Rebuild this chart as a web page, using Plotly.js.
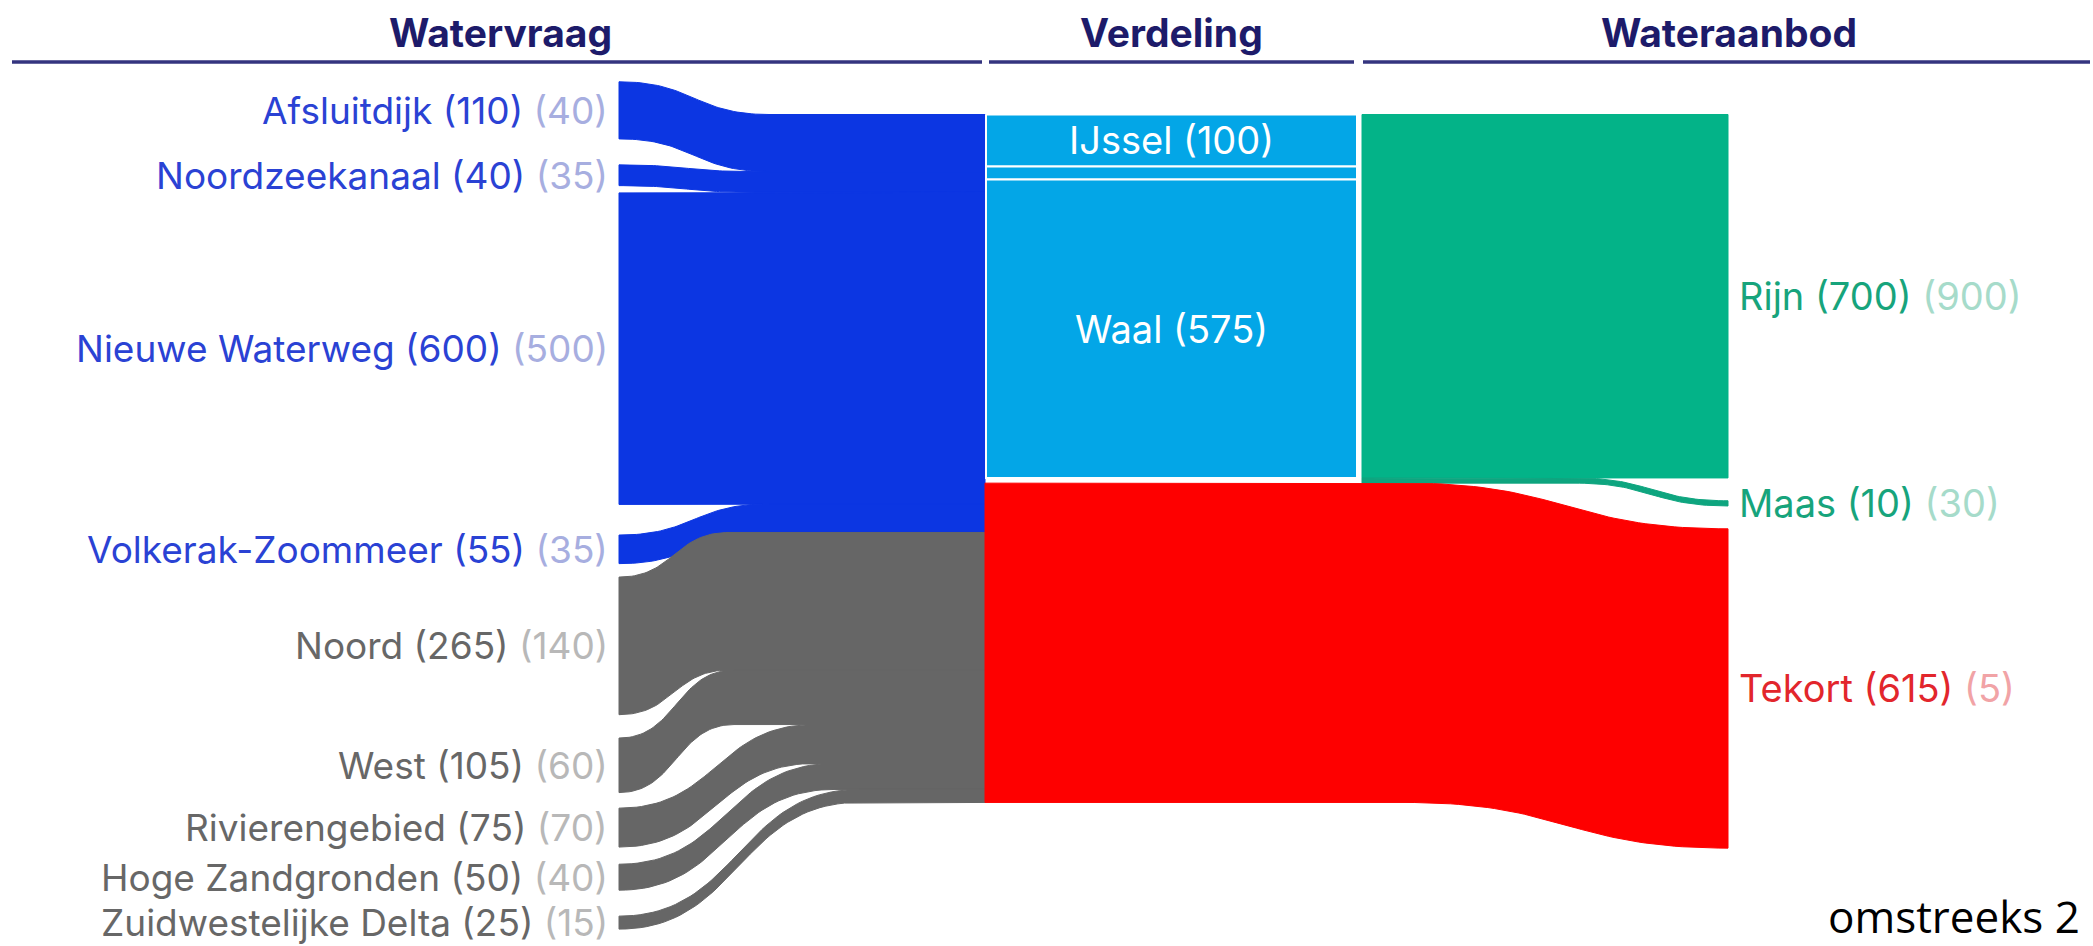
<!DOCTYPE html>
<html>
<head>
<meta charset="utf-8">
<script src="https://cdn.plot.ly/plotly-3.0.1.min.js"></script>
<style>
  html, body { margin: 0; padding: 0; background: #ffffff; }
  #chart { width: 2093px; height: 946px; }
</style>
</head>
<body>
<div id="chart"></div>
<script>
// ---------------- DATA ----------------
const demandNames  = ['Afsluitdijk', 'Noordzeekanaal', 'Nieuwe Waterweg', 'Volkerak-Zoommeer',
                      'Noord', 'West', 'Rivierengebied', 'Hoge Zandgronden', 'Zuidwestelijke Delta'];
const demandValues = [110, 40, 600, 55, 265, 105, 75, 50, 25];
const demandOther  = [40, 35, 500, 35, 140, 60, 70, 40, 15];
const demandGroup  = ['hoofd', 'hoofd', 'hoofd', 'hoofd', 'regio', 'regio', 'regio', 'regio', 'regio'];

const verdNames    = ['IJssel', 'Nederrijn', 'Waal'];
const verdValues   = [100, 25, 575];
const verdLabelled = [true, false, true];

const supplyNames  = ['Rijn', 'Maas', 'Tekort'];
const supplyValues = [700, 10, 615];
const supplyOther  = [900, 30, 5];

const headers = ['Watervraag', 'Verdeling', 'Wateraanbod'];
const footnote = 'omstreeks 2';

// ---------------- STYLE / LAYOUT ----------------
const W = 2093, H = 946;
const PX_PER_UNIT = 0.5192;
const TOP_PX = 114.5;
const Y_TOP = -TOP_PX / PX_PER_UNIT;
const Y_BOT = (H - TOP_PX) / PX_PER_UNIT;

const COL = {
  demandStart: 619, demandEnd: 985,
  verdStart: 986, verdEnd: 1357,
  supplyStart: 1362, supplyEnd: 1728,
  redCurveStart: 1405, maasCurveStart: 1575,
  leftLabelX: 610, rightLabelX: 1737, midLabelX: 1171
};
const leftStartOffset = -63;                       // units, first left band above block top
const leftGaps = [50, 14, 59, 26, 45, 30, 33, 50]; // units between left bands
const curveWidths = [150, 135, 120, 150, 110, 115, 195, 215, 240]; // px, horizontal length of each bend
const rightGap = 44;                               // units between right bands

const C = {
  hoofd: '#0c36e2', regio: '#666666', verd: '#03a6e7', rijn: '#03b388', maas: '#0ea57f', tekort: '#fe0000',
  navy: '#1d1b6a', line: '#34347f'
};
const LBL = {
  hoofd:  ['#2a42d4', '#a7aee0'],
  regio:  ['#676767', '#b8b8b8'],
  supply: ['#17a47c', '#a6dbca'],
  tekort: ['#e2262c', '#f1a3a6']
};
const FONT = 'Inter, "Open Sans", Arial, sans-serif';
const LABEL_SIZE = 37;

// ---------------- HELPERS ----------------
function bez(x0, y0, x1, y1, n) {
  const xs = [], ys = [];
  const xm = (x0 + x1) / 2;
  for (let k = 0; k <= n; k++) {
    const t = k / n, u = 1 - t;
    xs.push(u*u*u*x0 + 3*u*u*t*xm + 3*u*t*t*xm + t*t*t*x1);
    ys.push(y0 + (y1 - y0) * (3*t*t - 2*t*t*t));
  }
  return [xs, ys];
}
function band(x0, yL, x1, yR, xEnd, v, startFlat) {
  let xs = [], ys = [];
  if (startFlat !== undefined) { xs.push(startFlat); ys.push(yL); }
  const [tx, ty] = bez(x0, yL, x1, yR, 48);
  xs = xs.concat(tx); ys = ys.concat(ty);
  xs.push(xEnd); ys.push(yR);
  xs.push(xEnd); ys.push(yR + v);
  const [bx, by] = bez(x0, yL + v, x1, yR + v, 48);
  xs = xs.concat(bx.slice().reverse()); ys = ys.concat(by.slice().reverse());
  if (startFlat !== undefined) { xs.push(startFlat); ys.push(yL + v); }
  xs.push(xs[0]); ys.push(ys[0]);
  return [xs, ys];
}
function rect(x0, x1, y0, y1) {
  return [[x0, x1, x1, x0, x0], [y0, y0, y1, y1, y0]];
}
function fillTrace(xy, color, lineColor, lineWidth) {
  return {
    type: 'scatter', mode: 'lines', x: xy[0], y: xy[1], fill: 'toself',
    fillcolor: color, line: { color: lineColor || color, width: lineWidth === undefined ? 1 : lineWidth },
    hoverinfo: 'skip', showlegend: false
  };
}

const traces = [];
const annotations = [];
const shapes = [];

// ---------------- LEFT: demand flows ----------------
let rightTop = 0;
let leftTop = leftStartOffset;
demandValues.forEach((v, i) => {
  if (i > 0) leftTop += leftGaps[i - 1];
  const L = leftTop, R = rightTop;
  const w = curveWidths[i];
  traces.push(fillTrace(band(COL.demandStart, L, COL.demandStart + w, R, COL.demandEnd, v), C[demandGroup[i]]));
  const cols = LBL[demandGroup[i]];
  annotations.push({
    x: COL.leftLabelX, y: L + v / 2, xref: 'x', yref: 'y', xanchor: 'right', yanchor: 'middle',
    showarrow: false, font: { family: FONT, size: LABEL_SIZE, color: cols[0] },
    text: demandNames[i] + ' (' + v + ') <span style="color:' + cols[1] + '">(' + demandOther[i] + ')</span>'
  });
  leftTop += v;
  rightTop += v;
});
const demandTotal = rightTop;

// ---------------- MIDDLE: Verdeling ----------------
let vTop = 0;
verdValues.forEach((v, i) => {
  traces.push(fillTrace(rect(COL.verdStart, COL.verdEnd, vTop, vTop + v), C.verd, '#ffffff', 2));
  if (verdLabelled[i]) {
    annotations.push({
      x: COL.midLabelX, y: vTop + v / 2, xref: 'x', yref: 'y', xanchor: 'center', yanchor: 'middle',
      showarrow: false, font: { family: FONT, size: LABEL_SIZE + 1, color: '#ffffff' },
      text: verdNames[i] + ' (' + v + ')'
    });
  }
  vTop += v;
});

// ---------------- RIGHT: supply ----------------
const rijn = supplyValues[0], maas = supplyValues[1], tekort = supplyValues[2];
traces.push(fillTrace(rect(COL.supplyStart, COL.supplyEnd, 0, rijn), C.rijn));
const maasLeft = rijn, maasRight = rijn + rightGap;
traces.push(fillTrace(band(COL.maasCurveStart, maasLeft, COL.supplyEnd, maasRight, COL.supplyEnd, maas, COL.supplyStart), C.maas));
const tekLeft = demandTotal - tekort;
const tekRight = maasRight + maas + rightGap;
traces.push(fillTrace(band(COL.redCurveStart, tekLeft, COL.supplyEnd, tekRight, COL.supplyEnd, tekort, COL.demandEnd), C.tekort));

const rightLabelY = [rijn / 2, maasRight + maas / 2, tekRight + tekort / 2];
supplyNames.forEach((n, i) => {
  const cols = n === 'Tekort' ? LBL.tekort : LBL.supply;
  annotations.push({
    x: COL.rightLabelX, y: rightLabelY[i], xref: 'x', yref: 'y', xanchor: 'left', yanchor: 'middle',
    showarrow: false, font: { family: FONT, size: LABEL_SIZE + 1, color: cols[0] },
    text: n + ' (' + supplyValues[i] + ') <span style="color:' + cols[1] + '">(' + supplyOther[i] + ')</span>'
  });
});

// ---------------- HEADERS ----------------
const headerSpans = [[12, 982], [989, 1354], [1363, 2090]];
const headerCenters = [500, 1171, 1729];
headers.forEach((h, i) => {
  annotations.push({
    x: headerCenters[i], y: 1 - 33 / H, xref: 'x', yref: 'paper', xanchor: 'center', yanchor: 'middle',
    showarrow: false, font: { family: FONT, size: 39, color: C.navy, weight: 700 }, text: h
  });
  shapes.push({
    type: 'line', xref: 'x', yref: 'paper', x0: headerSpans[i][0], x1: headerSpans[i][1],
    y0: 1 - 62 / H, y1: 1 - 62 / H, line: { color: C.line, width: 3.5 }
  });
});

annotations.push({
  x: 1826, y: 1 - 916 / H, xref: 'x', yref: 'paper', xanchor: 'left', yanchor: 'middle',
  showarrow: false, font: { family: '"Open Sans", "Noto Sans", sans-serif', size: 44, color: '#000000' },
  text: footnote
});

const layout = {
  width: W, height: H,
  margin: { l: 0, r: 0, t: 0, b: 0, pad: 0 },
  paper_bgcolor: '#ffffff', plot_bgcolor: '#ffffff',
  xaxis: { range: [0, W], visible: false, fixedrange: true },
  yaxis: { range: [Y_BOT, Y_TOP], visible: false, fixedrange: true },
  showlegend: false,
  annotations: annotations,
  shapes: shapes
};

Plotly.newPlot('chart', traces, layout, { staticPlot: true, displayModeBar: false });
</script>
</body>
</html>
